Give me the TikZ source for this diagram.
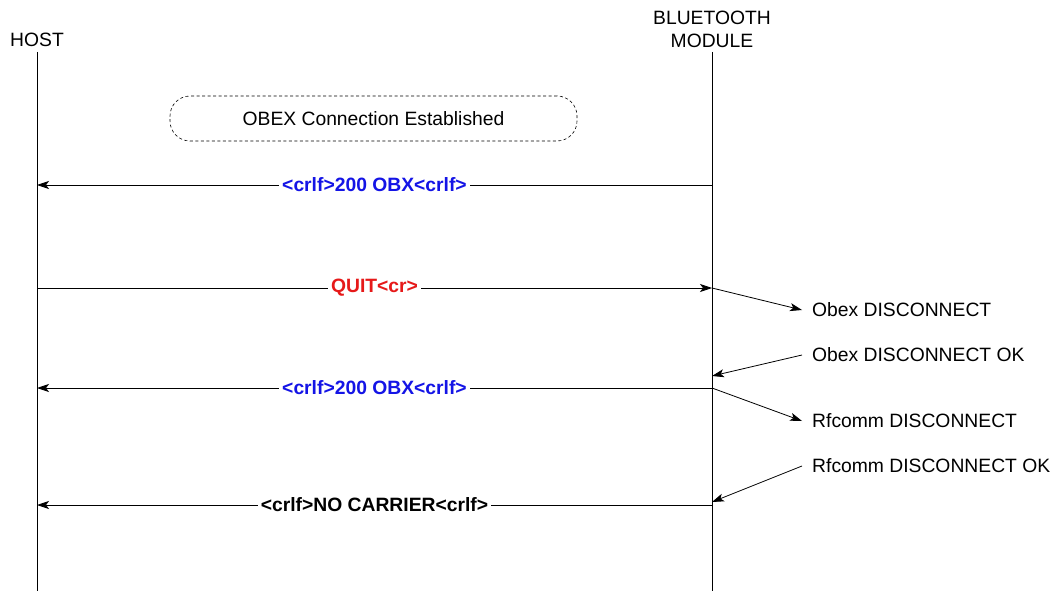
\documentclass[tikz,border=0pt]{standalone}
\usepackage{fontspec}
\setmainfont{Liberation Sans}
\usetikzlibrary{arrows.meta}
\definecolor{msgblue}{RGB}{20,20,230}
\definecolor{msgred}{RGB}{230,25,25}
\begin{document}
\begin{tikzpicture}[x=1pt,y=-1pt,
  every node/.style={font=\fontsize{19.3}{23}\selectfont, inner sep=0pt},
  life/.style={draw=black, line width=0.9pt},
  msg/.style={draw=black, line width=0.8pt, -{Stealth[length=12pt,width=8pt,inset=3pt]}},
  lbl/.style={fill=white, inner xsep=3pt, inner ysep=1pt, font=\fontsize{19.3}{23}\selectfont\bfseries},
  note/.style={anchor=west},
  statebox/.style={draw=black, line width=0.6pt, dash pattern=on 3pt off 2.5pt, rounded corners=20pt, minimum width=407pt, minimum height=45pt}
]
\useasboundingbox (0,0) rectangle (1060,591);
% heads
\node (host) at (37,40) {HOST};
\node[align=center, font=\fontsize{19.3}{23}\selectfont] (mod) at (712,29) {BLUETOOTH\\MODULE};
% lifelines
\coordinate (hT) at (37,52); \coordinate (hB) at (37,591);
\coordinate (mT) at (712,52); \coordinate (mB) at (712,591);
\draw[life] (hT) -- (hB);
\draw[life] (mT) -- (mB);
% state box
\node[statebox] (state) at (373.5,118.5) {OBEX Connection Established};
% message points
\coordinate (h1) at (37,185); \coordinate (m1) at (712,185);
\coordinate (h2) at (37,288); \coordinate (m2) at (712,288);
\coordinate (h3) at (37,388); \coordinate (m3) at (712,388);
\coordinate (h4) at (37,505); \coordinate (m4) at (712,505);
\coordinate (mOk1) at (712,376);
\coordinate (mOk2) at (712,502);
% messages
\draw[msg] (m1) -- (h1) node[midway, lbl, text=msgblue] {<crlf>200 OBX<crlf>};
\draw[msg] (h2) -- (m2) node[midway, lbl, text=msgred] {QUIT<cr>};
\draw[msg] (m3) -- (h3) node[midway, lbl, text=msgblue] {<crlf>200 OBX<crlf>};
\draw[msg] (m4) -- (h4) node[midway, lbl] {<crlf>NO CARRIER<crlf>};
% side notes
\node[note] (n1) at (812,310) {Obex DISCONNECT};
\node[note] (n2) at (812,355) {Obex DISCONNECT OK};
\node[note] (n3) at (812,421) {Rfcomm DISCONNECT};
\node[note] (n4) at (812,466) {Rfcomm DISCONNECT OK};
\draw[msg] (m2) -- ([xshift=-10pt]n1.west);
\draw[msg] ([xshift=-10pt]n2.west) -- (mOk1);
\draw[msg] (m3) -- ([xshift=-10pt]n3.west);
\draw[msg] ([xshift=-10pt]n4.west) -- (mOk2);
\end{tikzpicture}
\end{document}
